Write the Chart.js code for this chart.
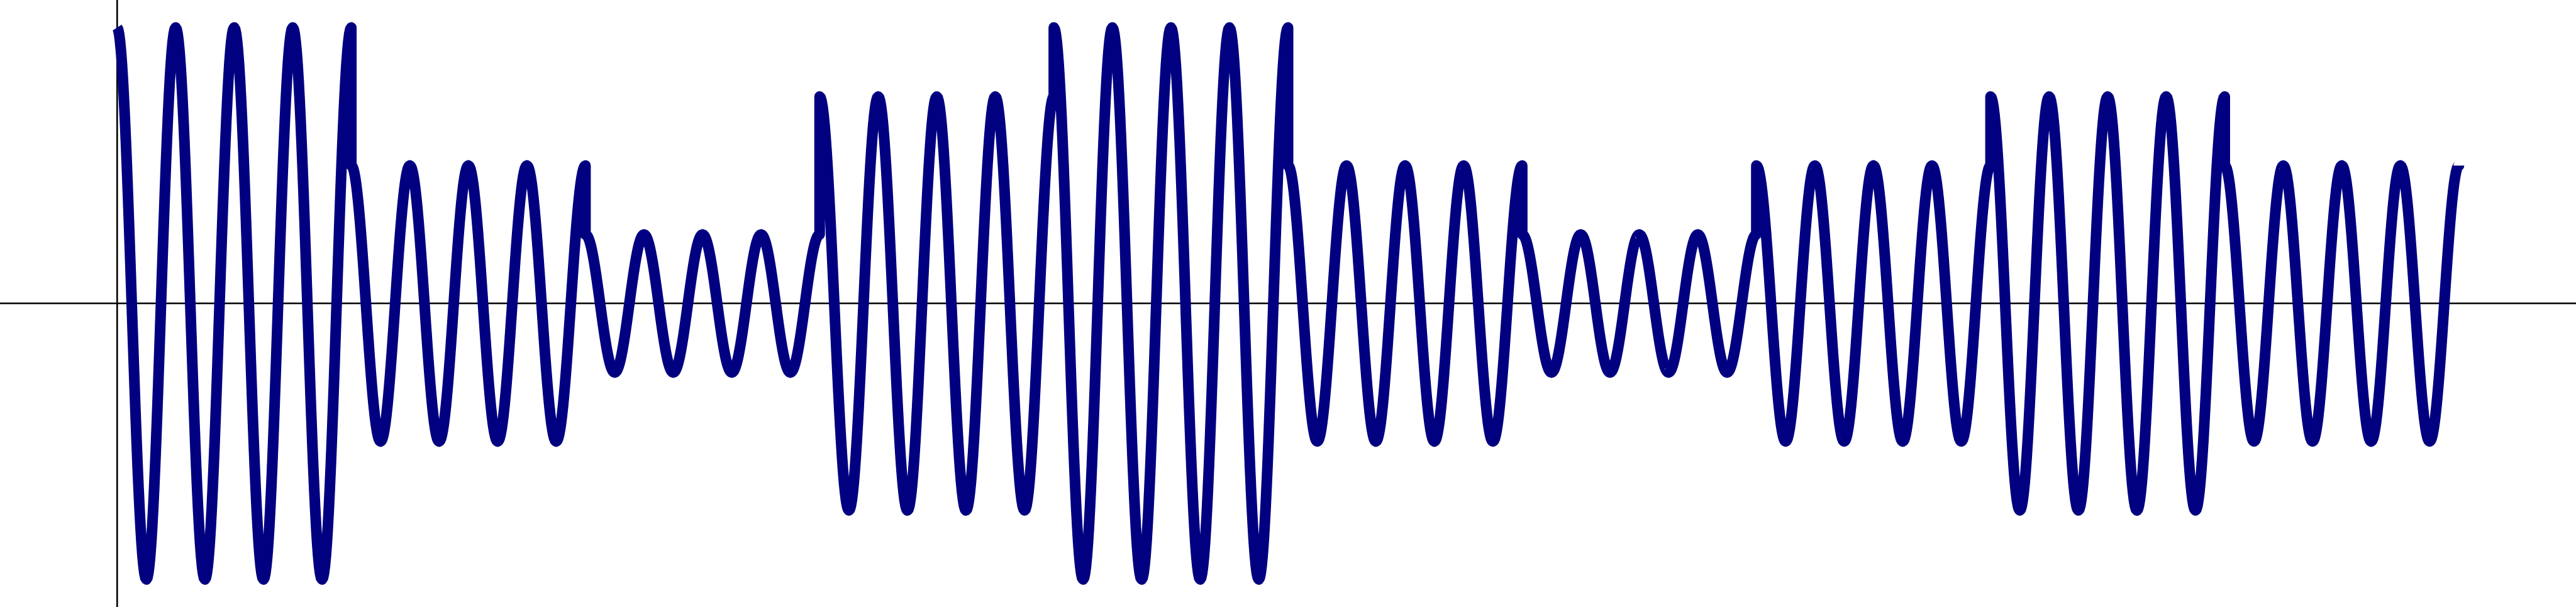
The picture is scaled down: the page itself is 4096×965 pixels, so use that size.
<!DOCTYPE html>
<html>
<head>
<meta charset="utf-8">
<script src="https://cdn.jsdelivr.net/npm/chart.js@4/dist/chart.umd.min.js"></script>
<style>
  html, body { margin: 0; padding: 0; background: #fff; }
  #wrap { width: 4096px; height: 965px; position: relative; }
</style>
</head>
<body>
<div id="wrap"><canvas id="chart"></canvas></div>
<script>
// symbol amplitudes, one per symbol interval
const amplitudes = [4, 2, 1, 3, 4, 2, 1, 2, 3, 2];
// carrier cycles per symbol
const cyclesPerSymbol = 4;
const samplesPerSymbol = 240;

// build the modulated waveform from the symbol amplitudes
const wave = [];
amplitudes.forEach((a, k) => {
  for (let i = 0; i <= samplesPerSymbol; i++) {
    const t = k + i / samplesPerSymbol;
    wave.push({ x: t, y: a * Math.cos(2 * Math.PI * cyclesPerSymbol * (t - k)) });
  }
});

// keep only the zero line of each axis
const onlyZero = (scale) => { scale.ticks = [{ value: 0 }]; };

new Chart(document.querySelector("#chart"), {
  type: "line",
  data: {
    datasets: [{
      data: wave,
      borderColor: "#000080",
      borderWidth: 17,
      borderJoinStyle: "round",
      borderCapStyle: "butt",
      pointRadius: 0,
      tension: 0.0001, // avoids the pixel-merging fast path
      fill: false,
    }],
  },
  options: {
    animation: false,
    responsive: true,
    maintainAspectRatio: false,
    parsing: false,
    layout: { padding: 0 },
    plugins: { legend: { display: false }, tooltip: { enabled: false } },
    scales: {
      x: {
        type: "linear",
        min: -0.5,
        max: 10.5,
        z: 1,
        afterBuildTicks: onlyZero,
        ticks: { display: false },
        grid: { color: "#000", lineWidth: 2.6, drawTicks: false },
        border: { display: false },
      },
      y: {
        type: "linear",
        min: -4.4,
        max: 4.4,
        z: 1,
        afterBuildTicks: onlyZero,
        ticks: { display: false },
        grid: { color: "#000", lineWidth: 2.6, drawTicks: false },
        border: { display: false },
      },
    },
  },
});
</script>
</body>
</html>
